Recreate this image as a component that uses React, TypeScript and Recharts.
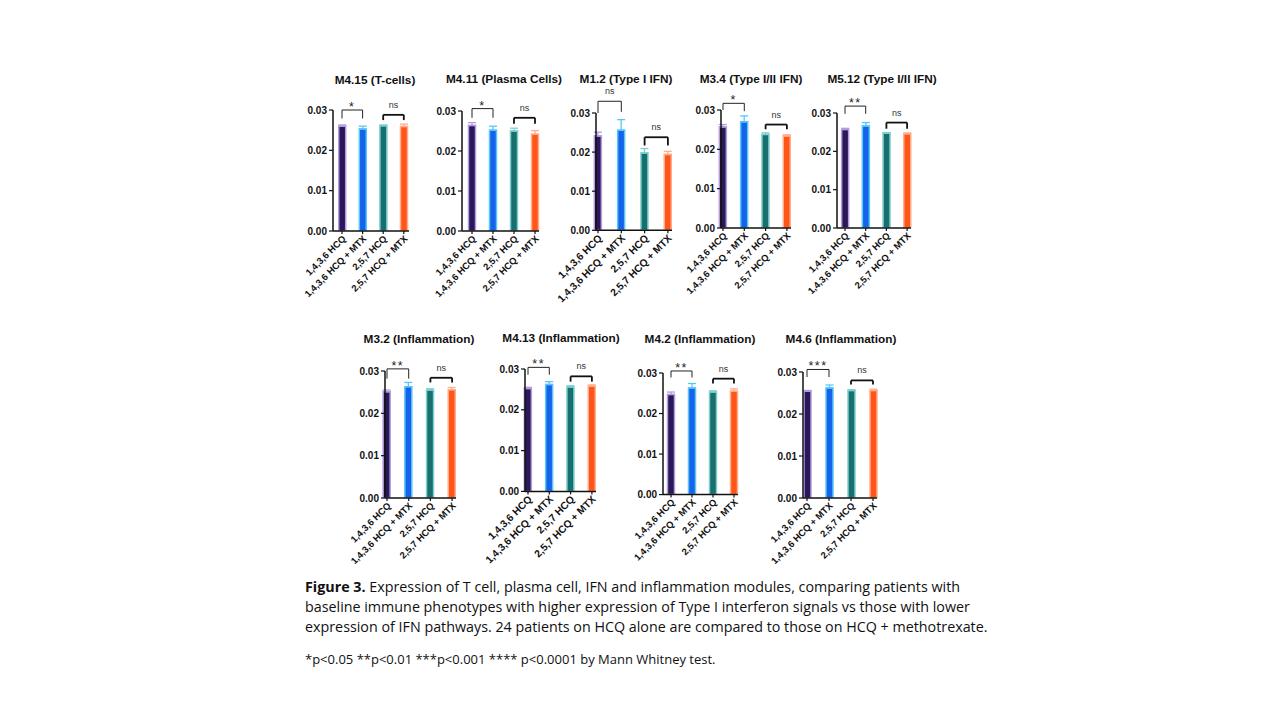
import React from 'react';
import { BarChart, Bar, XAxis, YAxis, ErrorBar, ReferenceLine } from 'recharts';

const categories = ['1,4,3,6 HCQ', '1,4,3,6 HCQ + MTX', '2,5,7 HCQ', '2,5,7 HCQ + MTX'];
const yTicks = [0, 0.01, 0.02, 0.03];

const titles = [
  'M4.15 (T-cells)',
  'M4.11 (Plasma Cells)',
  'M1.2 (Type I IFN)',
  'M3.4 (Type I/II IFN)',
  'M5.12 (Type I/II IFN)',
  'M3.2 (Inflammation)',
  'M4.13 (Inflammation)',
  'M4.2 (Inflammation)',
  'M4.6 (Inflammation)',
];

const meansM415 = [0.026, 0.0253, 0.0261, 0.0259];
const errsM415 = [0.0003, 0.0007, 0.0002, 0.0006];
const meansM411 = [0.0264, 0.0252, 0.025, 0.0242];
const errsM411 = [0.0007, 0.001, 0.0007, 0.0009];
const meansM12 = [0.0241, 0.0256, 0.0198, 0.0194];
const errsM12 = [0.001, 0.0027, 0.0011, 0.0008];
const meansM34 = [0.0257, 0.027, 0.0238, 0.0234];
const errsM34 = [0.0006, 0.0015, 0.0004, 0.0003];
const meansM512 = [0.0257, 0.0266, 0.0247, 0.0246];
const errsM512 = [0.0003, 0.0009, 0.0002, 0.0002];
const meansM32 = [0.0251, 0.0263, 0.0255, 0.0256];
const errsM32 = [0.0004, 0.001, 0.0003, 0.0005];
const meansM413 = [0.0252, 0.0262, 0.0256, 0.0258];
const errsM413 = [0.0003, 0.0007, 0.0003, 0.0003];
const meansM42 = [0.0247, 0.0263, 0.0253, 0.0255];
const errsM42 = [0.0006, 0.0011, 0.0003, 0.0006];
const meansM46 = [0.0254, 0.0262, 0.0256, 0.0256];
const errsM46 = [0.0002, 0.0007, 0.0002, 0.0003];

const allMeans = [meansM415, meansM411, meansM12, meansM34, meansM512, meansM32, meansM413, meansM42, meansM46];
const allErrs = [errsM415, errsM411, errsM12, errsM34, errsM512, errsM32, errsM413, errsM42, errsM46];

const sigHcq = ['*', '*', 'ns', '*', '**', '**', '**', '**', '***'];
const sigCombo = ['ns', 'ns', 'ns', 'ns', 'ns', 'ns', 'ns', 'ns', 'ns'];

const fills = ['#2a1858', '#1463ea', '#176f6e', '#ff5518'];
const strokes = ['#b39be0', '#58c6f7', '#7fcfcf', '#ffad8a'];

// layout: axisX, first bar center, spacing, x-axis end, y px of 0.03, y px of 0, title center, title y, tick font, brackets
const layouts = [
  { axisX: 333, c0: 342, s: 20.6, xEnd: 409, y3: 110, y0: 231, tx: 375, ty: 80, tf: 9.4, b1: [0.03, 0.0279, 0.0279], b2: [0.0288, 0.0275, 0.0275] },
  { axisX: 462, c0: 472, s: 21, xEnd: 539, y3: 110.7, y0: 230.7, tx: 504, ty: 79, tf: 9.4, b1: [0.0306, 0.0283, 0.0283], b2: [0.0283, 0.0268, 0.0268] },
  { axisX: 596, c0: 598, s: 23.3, xEnd: 672, y3: 112.7, y0: 230, tx: 626, ty: 79, tf: 10.3, b1: [0.033, 0.03, 0.0303], b2: [0.0238, 0.0217, 0.0217] },
  { axisX: 721, c0: 723, s: 21.3, xEnd: 791, y3: 110, y0: 228, tx: 751, ty: 79, tf: 9.4, b1: [0.0317, 0.03, 0.0297], b2: [0.0263, 0.0251, 0.0251] },
  { axisX: 837, c0: 845, s: 20.7, xEnd: 911, y3: 112.7, y0: 227.7, tx: 882, ty: 79, tf: 9.4, b1: [0.0318, 0.0298, 0.0298], b2: [0.0275, 0.0259, 0.0259] },
  { axisX: 385, c0: 387, s: 21.7, xEnd: 456, y3: 370.7, y0: 497.7, tx: 419, ty: 339, tf: 9.4, b1: [0.0305, 0.0282, 0.0282], b2: [0.0284, 0.0273, 0.0273] },
  { axisX: 525, c0: 528, s: 21.3, xEnd: 596, y3: 369.3, y0: 491.7, tx: 561, ty: 338, tf: 10.3, b1: [0.0304, 0.0286, 0.0286], b2: [0.0282, 0.0269, 0.0269] },
  { axisX: 663, c0: 671, s: 21, xEnd: 738, y3: 372.7, y0: 494.3, tx: 700, ty: 339, tf: 9.4, b1: [0.0305, 0.0289, 0.0289], b2: [0.0286, 0.0274, 0.0274] },
  { axisX: 803, c0: 807, s: 22, xEnd: 877, y3: 371.7, y0: 497.7, tx: 841, ty: 339, tf: 9.4, b1: [0.0306, 0.0288, 0.0288], b2: [0.028, 0.027, 0.027] },
];

const FONT = '"Liberation Sans", Arial, sans-serif';

const XTick = (props: any) => {
  const { x, y, payload, fs } = props;
  return (
    <g transform={`translate(${x + 2},${y + 1})`}>
      <text x={0} y={0} dy="0.35em" textAnchor="end" transform="rotate(-45)" fontSize={fs} fontWeight={700} fill="#111" fontFamily={FONT}>
        {payload.value}
      </text>
    </g>
  );
};

function Panel({ idx }: { idx: number }) {
  const L = layouts[idx];
  const means = allMeans[idx];
  const errs = allErrs[idx];
  const data = categories.map((name, i) => {
    const row: any = { name };
    row['m' + i] = means[i];
    row['e' + i] = [0, errs[i]];
    return row;
  });
  const YW = 75;
  const TOP = 45;
  const XH = 90;
  const plotW = L.xEnd - L.axisX;
  const plotH = L.y0 - L.y3;
  const padL = L.c0 - L.s / 2 - L.axisX;
  const padR = L.xEnd - (L.c0 + 3.5 * L.s);
  const W = YW + plotW + 14;
  const H = TOP + plotH + XH;
  const starStyle = { fontSize: 12.5, fill: '#222', fontFamily: FONT, letterSpacing: 1.5 };
  const nsStyle = { fontSize: 9, fill: '#333', fontFamily: FONT };
  const lab1 = sigHcq[idx];
  const lab2 = sigCombo[idx];
  const isStar1 = lab1 !== 'ns';
  return (
    <>
      <div
        style={{
          position: 'absolute',
          left: L.tx - 100,
          width: 200,
          top: L.ty - 8,
          textAlign: 'center',
          fontFamily: FONT,
          fontWeight: 700,
          fontSize: 11.8,
          color: '#111',
          lineHeight: '16px',
          zIndex: 2,
          whiteSpace: 'nowrap',
        }}
      >
        {titles[idx]}
      </div>
      <div style={{ position: 'absolute', left: L.axisX - YW, top: L.y3 - TOP }}>
        <BarChart width={W} height={H} data={data} margin={{ top: TOP, right: 14, left: 0, bottom: 0 }} barSize={7}>
          <XAxis
            dataKey="name"
            interval={0}
            padding={{ left: padL, right: padR }}
            height={XH}
            tickSize={3}
            axisLine={{ stroke: '#111', strokeWidth: 1.5 }}
            tickLine={{ stroke: '#111', strokeWidth: 1.2 }}
            tick={<XTick fs={L.tf} />}
          />
          <YAxis
            width={YW}
            domain={[0, 0.03]}
            ticks={yTicks}
            allowDataOverflow
            tickFormatter={(v: number) => v.toFixed(2)}
            tickSize={4}
            tickMargin={2}
            axisLine={{ stroke: '#111', strokeWidth: 1.5 }}
            tickLine={{ stroke: '#111', strokeWidth: 1.2 }}
            tick={{ fontSize: 10, fontWeight: 700, fill: '#111', fontFamily: FONT }}
          />
          {categories.map((c, i) => (
            <Bar key={i} dataKey={'m' + i} stackId="s" fill={fills[i]} stroke={strokes[i]} strokeWidth={1.5} isAnimationActive={false}>
              <ErrorBar dataKey={'e' + i} width={4} stroke={strokes[i]} strokeWidth={1.3} direction="y" />
            </Bar>
          ))}
          <ReferenceLine
            segment={[{ x: categories[0], y: L.b1[0] }, { x: categories[1], y: L.b1[0] }]}
            stroke="#222"
            strokeWidth={1}
            ifOverflow="visible"
            label={{ value: lab1, position: 'top', offset: isStar1 ? -1 : 7, ...(isStar1 ? starStyle : nsStyle) }}
          />
          <ReferenceLine segment={[{ x: categories[0], y: L.b1[0] }, { x: categories[0], y: L.b1[1] }]} stroke="#222" strokeWidth={1} ifOverflow="visible" />
          <ReferenceLine segment={[{ x: categories[1], y: L.b1[0] }, { x: categories[1], y: L.b1[2] }]} stroke="#222" strokeWidth={1} ifOverflow="visible" />
          <ReferenceLine
            segment={[{ x: categories[2], y: L.b2[0] }, { x: categories[3], y: L.b2[0] }]}
            stroke="#111"
            strokeWidth={1.8}
            ifOverflow="visible"
            label={{ value: lab2, position: 'top', offset: 7, ...nsStyle }}
          />
          <ReferenceLine segment={[{ x: categories[2], y: L.b2[0] }, { x: categories[2], y: L.b2[1] }]} stroke="#111" strokeWidth={1.8} ifOverflow="visible" />
          <ReferenceLine segment={[{ x: categories[3], y: L.b2[0] }, { x: categories[3], y: L.b2[2] }]} stroke="#111" strokeWidth={1.8} ifOverflow="visible" />
        </BarChart>
      </div>
    </>
  );
}

const captionLines = [
  'Expression of T cell, plasma cell, IFN and inflammation modules, comparing patients with',
  'baseline immune phenotypes with higher expression of Type I interferon signals vs those with lower',
  'expression of IFN pathways. 24 patients on HCQ alone are compared to those on HCQ + methotrexate.',
];
const footnote = '*p<0.05 **p<0.01 ***p<0.001 **** p<0.0001 by Mann Whitney test.';

export default function App() {
  const capFont = '"Open Sans", "Noto Sans", sans-serif';
  return (
    <div style={{ position: 'absolute', left: 0, top: 0, width: 1280, height: 720, background: '#fff', overflow: 'hidden' }}>
      {titles.map((t, i) => (
        <Panel key={i} idx={i} />
      ))}
      <div style={{ position: 'absolute', left: 305, top: 577, fontFamily: capFont, fontSize: 14.3, color: '#111', lineHeight: '20px', whiteSpace: 'nowrap' }}>
        <div>
          <b>Figure 3.</b> {captionLines[0]}
        </div>
        <div>{captionLines[1]}</div>
        <div>{captionLines[2]}</div>
      </div>
      <div style={{ position: 'absolute', left: 305, top: 649, fontFamily: capFont, fontSize: 13, color: '#111', lineHeight: '20px', whiteSpace: 'nowrap' }}>
        {footnote}
      </div>
    </div>
  );
}
